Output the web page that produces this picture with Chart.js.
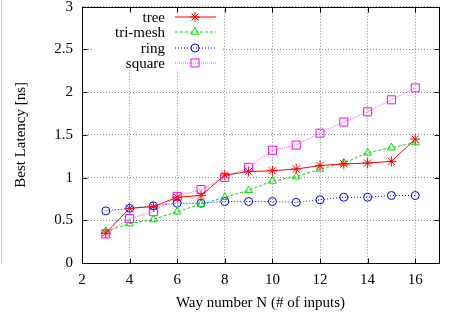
<!DOCTYPE html>
<html>
<head>
<meta charset="utf-8">
<script src="https://cdn.jsdelivr.net/npm/chart.js@4"></script>
<style>
    html, body { margin: 0; padding: 0; background: #fff; }
    #wrap { position: relative; width: 453px; height: 320px; }
    #edge { position: absolute; left: 1px; top: 0; width: 1px; height: 264px; background: #c0c0c0; }
</style>
</head>
<body>
<div id="wrap">
    <canvas id="latencyChart" width="453" height="320"></canvas>
    <div id="edge"></div>
</div>
<script>
// ==================== DATA ====================
const wayNumbers = [3, 4, 5, 6, 7, 8, 9, 10, 11, 12, 13, 14, 15, 16];
const treeLatency = [0.35, 0.64, 0.66, 0.77, 0.79, 1.03, 1.07, 1.08, 1.10, 1.14, 1.16, 1.17, 1.19, 1.45];
const triMeshLatency = [0.37, 0.46, 0.51, 0.60, 0.69, 0.77, 0.85, 0.96, 1.01, 1.10, 1.17, 1.29, 1.35, 1.41];
const ringLatency = [0.61, 0.64, 0.67, 0.70, 0.70, 0.72, 0.72, 0.72, 0.71, 0.74, 0.77, 0.77, 0.79, 0.79];
const squareLatency = [0.34, 0.52, 0.60, 0.78, 0.86, 1.00, 1.12, 1.32, 1.38, 1.52, 1.65, 1.77, 1.91, 2.05];
const seriesNames = ['tree', 'tri-mesh', 'ring', 'square'];
const xTicks = [2, 4, 6, 8, 10, 12, 14, 16];
const yTicks = [0, 0.5, 1, 1.5, 2, 2.5, 3];

const FONT = "'Liberation Serif', 'DejaVu Serif', serif";
const FONT_SIZE = 15;

// Build a dataset from an array of y values
function makeSeries(label, values, color, dash, style, radius, width) {
    return {
        label: label,
        data: wayNumbers.map((n, i) => ({ x: n, y: values[i] })),
        borderColor: color,
        backgroundColor: 'rgba(0,0,0,0)',
        borderWidth: width,
        borderDash: dash,
        pointStyle: style,
        pointRadius: radius,
        pointBorderColor: color,
        pointBackgroundColor: 'rgba(0,0,0,0)',
        pointBorderWidth: 1,
        tension: 0,
        fill: false
    };
}

const datasets = [
    makeSeries(seriesNames[0], treeLatency, '#ff0000', [], 'star', 5, 1),
    makeSeries(seriesNames[1], triMeshLatency, '#00dd00', [3, 2], 'triangle', 4.5, 1),
    makeSeries(seriesNames[2], ringLatency, '#0000ff', [1, 2], 'circle', 4, 1),
    makeSeries(seriesNames[3], squareLatency, '#ff00ff', [1, 1], 'rect', 5.7, 0.7)
];

// Gnuplot-style key: text right aligned, sample line + marker on the right
const gnuplotKey = {
    id: 'gnuplotKey',
    beforeDatasetsDraw(chart) {
        const ctx = chart.ctx;
        ctx.save();
        ctx.fillStyle = '#fff';
        ctx.fillRect(92, 8, 130, 62);
        ctx.restore();
    },
    afterDatasetsDraw(chart) {
        const ctx = chart.ctx;
        const rows = [17, 32, 48, 63];
        ctx.save();
        ctx.font = FONT_SIZE + 'px ' + FONT;
        ctx.textAlign = 'right';
        ctx.textBaseline = 'middle';
        chart.data.datasets.forEach((ds, i) => {
            const y = rows[i];
            ctx.fillStyle = '#000';
            ctx.fillText(ds.label, 165, y + 1);
            ctx.strokeStyle = ds.borderColor;
            ctx.lineWidth = ds.borderWidth;
            ctx.setLineDash(ds.borderDash);
            ctx.beginPath();
            ctx.moveTo(175, y);
            ctx.lineTo(216, y);
            ctx.stroke();
            ctx.setLineDash([]);
            ctx.fillStyle = 'rgba(0,0,0,0)';
            ctx.lineWidth = 1;
            Chart.helpers.drawPoint(ctx, {
                pointStyle: ds.pointStyle,
                radius: ds.pointRadius,
                borderWidth: 1
            }, 195, y);
        });
        ctx.restore();
    }
};

// Frame around the plot area, with small inward ticks on all four sides
const plotFrame = {
    id: 'plotFrame',
    afterDraw(chart) {
        const a = chart.chartArea;
        const ctx = chart.ctx;
        const xs = chart.scales.x;
        const ys = chart.scales.y;
        const L = Math.round(a.left) + 0.5;
        const R = Math.round(a.right) + 0.5;
        const T = Math.round(a.top) + 0.5;
        const B = Math.round(a.bottom) + 0.5;
        ctx.save();
        ctx.strokeStyle = '#000';
        ctx.lineWidth = 1;
        ctx.strokeRect(L, T, R - L, B - T);
        ctx.beginPath();
        xTicks.forEach(v => {
            const px = Math.round(xs.getPixelForValue(v)) + 0.5;
            ctx.moveTo(px, B); ctx.lineTo(px, B - 5);
            ctx.moveTo(px, T); ctx.lineTo(px, T + 5);
        });
        yTicks.forEach(v => {
            const py = Math.round(ys.getPixelForValue(v)) + 0.5;
            ctx.moveTo(L, py); ctx.lineTo(L + 5, py);
            ctx.moveTo(R, py); ctx.lineTo(R - 5, py);
        });
        ctx.stroke();
        ctx.restore();
    }
};

document.addEventListener('DOMContentLoaded', function() {
    const ctx = document.getElementById('latencyChart').getContext('2d');
    new Chart(ctx, {
        type: 'line',
        data: { datasets: datasets },
        plugins: [gnuplotKey, plotFrame],
        options: {
            responsive: false,
            animation: false,
            layout: { padding: { top: 5, right: 14, bottom: 0, left: 0 } },
            plugins: {
                legend: { display: false },
                tooltip: { enabled: false }
            },
            scales: {
                x: {
                    type: 'linear',
                    min: 2,
                    max: 17,
                    afterBuildTicks: scale => { scale.ticks = xTicks.map(v => ({ value: v })); },
                    afterFit: scale => {
                        scale.height = 57;
                        scale.paddingLeft = 0;
                        scale.paddingRight = 0;
                    },
                    grid: {
                        color: '#8a8a8a',
                        lineWidth: 1,
                        drawTicks: false
                    },
                    border: { display: false, dash: [1, 2] },
                    ticks: {
                        color: '#000',
                        padding: 8,
                        maxRotation: 0,
                        font: { family: FONT, size: FONT_SIZE }
                    },
                    title: {
                        display: true,
                        text: 'Way number N (# of inputs)',
                        color: '#000',
                        padding: { top: 0, bottom: 8 },
                        font: { family: FONT, size: FONT_SIZE }
                    }
                },
                y: {
                    type: 'linear',
                    min: 0,
                    max: 3,
                    afterBuildTicks: scale => { scale.ticks = yTicks.map(v => ({ value: v })); },
                    afterFit: scale => {
                        scale.width = 82;
                        scale.paddingTop = 0;
                        scale.paddingBottom = 0;
                    },
                    grid: {
                        color: '#8a8a8a',
                        lineWidth: 1,
                        drawTicks: false
                    },
                    border: { display: false, dash: [1, 2] },
                    ticks: {
                        color: '#000',
                        padding: 9,
                        font: { family: FONT, size: FONT_SIZE },
                        callback: value => String(value)
                    },
                    title: {
                        display: true,
                        text: 'Best Latency [ns]',
                        color: '#000',
                        padding: { top: 12, bottom: 0 },
                        font: { family: FONT, size: FONT_SIZE }
                    }
                }
            }
        }
    });
});
</script>
</body>
</html>
